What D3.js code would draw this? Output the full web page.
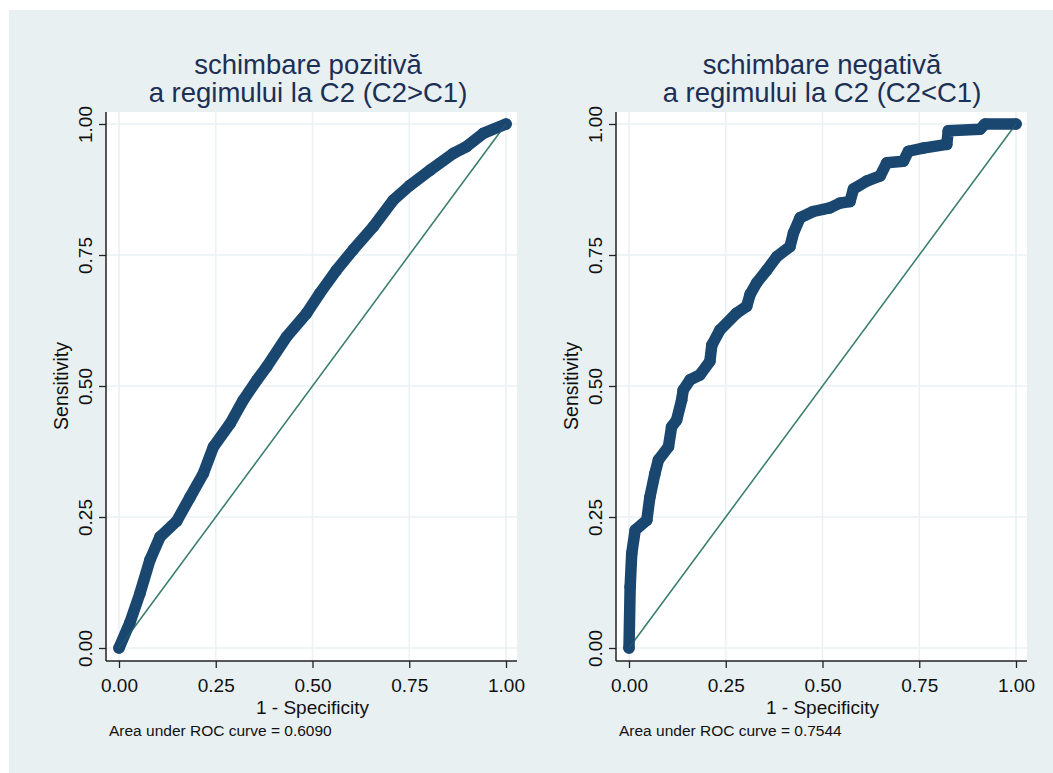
<!DOCTYPE html>
<html>
<head>
<meta charset="utf-8">
<script src="https://cdn.jsdelivr.net/npm/d3@7"></script>
<style>
  html, body { margin: 0; padding: 0; background: #ffffff; }
  svg { display: block; font-family: "Liberation Sans", Arial, sans-serif; }
</style>
</head>
<body>
<svg id="chart" width="1053" height="773"></svg>
<script>
// ---------- DATA ----------
const titles1 = ["schimbare pozitivă", "a regimului la C2 (C2>C1)"];
const titles2 = ["schimbare negativă", "a regimului la C2 (C2<C1)"];
const notes = ["Area under ROC curve = 0.6090", "Area under ROC curve = 0.7544"];
const tickValues = [0, 0.25, 0.5, 0.75, 1];
const tickLabels = ["0.00", "0.25", "0.50", "0.75", "1.00"];
const xTitle = "1 - Specificity";
const yTitle = "Sensitivity";

// panel 1 : 1 - specificity / sensitivity
const spec1 = [0, 0.028, 0.054, 0.080, 0.106, 0.149, 0.183, 0.218, 0.244, 0.287, 0.321, 0.356, 0.382, 0.433, 0.485, 0.519, 0.562, 0.605, 0.657, 0.709, 0.752, 0.804, 0.864, 0.898, 0.941, 1];
const sens1 = [0, 0.048, 0.104, 0.168, 0.212, 0.242, 0.287, 0.333, 0.384, 0.428, 0.473, 0.511, 0.537, 0.594, 0.639, 0.677, 0.721, 0.760, 0.804, 0.855, 0.883, 0.912, 0.944, 0.957, 0.982, 1];

// panel 2
const spec2 = [0, 0.003, 0.007, 0.016, 0.046, 0.054, 0.067, 0.076, 0.102, 0.110, 0.123, 0.136, 0.140, 0.158, 0.183, 0.209, 0.214, 0.235, 0.278, 0.304, 0.313, 0.330, 0.356, 0.382, 0.416, 0.425, 0.442, 0.476, 0.519, 0.545, 0.571, 0.580, 0.614, 0.649, 0.666, 0.709, 0.722, 0.760, 0.821, 0.825, 0.907, 0.920, 1];
const sens2 = [0, 0.117, 0.180, 0.225, 0.244, 0.288, 0.333, 0.359, 0.384, 0.422, 0.435, 0.473, 0.492, 0.512, 0.521, 0.547, 0.578, 0.607, 0.639, 0.652, 0.675, 0.697, 0.721, 0.747, 0.766, 0.792, 0.821, 0.833, 0.840, 0.849, 0.852, 0.876, 0.891, 0.901, 0.926, 0.929, 0.948, 0.954, 0.961, 0.987, 0.990, 1, 1];

// ---------- STYLE ----------
const bgColor = "#e8f0f2";
const gridColor = "#eaf2f3";
const curveColor = "#1a476f";
const refColor = "#3b7f6e";
const titleColor = "#1c2f55";

const svg = d3.select("#chart");

svg.append("rect")
  .attr("x", 9).attr("y", 10)
  .attr("width", 1053 - 9).attr("height", 773 - 10)
  .attr("fill", bgColor);

const panels = [
  { left: 119, title: titles1, titleX: 308, note: notes[0], spec: spec1, sens: sens1 },
  { left: 629, title: titles2, titleX: 822, note: notes[1], spec: spec2, sens: sens2 }
];

const plotW = 387, plotTop = 124, plotH = 524;

panels.forEach(p => {
  const x = d3.scaleLinear().domain([0, 1]).range([p.left, p.left + plotW]);
  const y = d3.scaleLinear().domain([0, 1]).range([plotTop + plotH, plotTop]);

  const rx0 = x(0) - 13, rx1 = x(1) + 11;
  const ry0 = y(1) - 12, ry1 = y(0) + 13;

  const g = svg.append("g");

  // plot region
  g.append("rect")
    .attr("x", rx0).attr("y", ry0)
    .attr("width", rx1 - rx0).attr("height", ry1 - ry0)
    .attr("fill", "#ffffff");

  // grid
  g.selectAll(".vg").data(tickValues).enter().append("line")
    .attr("x1", d => x(d)).attr("x2", d => x(d))
    .attr("y1", ry0).attr("y2", ry1)
    .attr("stroke", gridColor).attr("stroke-width", 1.6);
  g.selectAll(".hg").data(tickValues).enter().append("line")
    .attr("x1", rx0).attr("x2", rx1)
    .attr("y1", d => y(d)).attr("y2", d => y(d))
    .attr("stroke", gridColor).attr("stroke-width", 1.6);

  // reference diagonal
  g.append("line")
    .attr("x1", x(0)).attr("y1", y(0))
    .attr("x2", x(1)).attr("y2", y(1))
    .attr("stroke", refColor).attr("stroke-width", 1.5);

  // ROC curve
  const pts = p.spec.map((s, i) => [s, p.sens[i]]);
  const line = d3.line().x(d => x(d[0])).y(d => y(d[1]));
  g.append("path")
    .attr("d", line(pts))
    .attr("fill", "none")
    .attr("stroke", curveColor)
    .attr("stroke-width", 11.5)
    .attr("stroke-linejoin", "round")
    .attr("stroke-linecap", "round");
  g.selectAll(".pt").data(pts).enter().append("circle")
    .attr("cx", d => x(d[0])).attr("cy", d => y(d[1]))
    .attr("r", 5.8).attr("fill", curveColor);
  // the reference line shows faintly on top near the ends
  g.append("line")
    .attr("x1", x(0)).attr("y1", y(0))
    .attr("x2", x(1)).attr("y2", y(1))
    .attr("stroke", refColor).attr("stroke-width", 1.2)
    .attr("stroke-opacity", 0.35);

  // axes
  const xAxis = d3.axisBottom(x).tickValues(tickValues)
    .tickFormat((d, i) => tickLabels[i]).tickSize(7).tickSizeOuter(0).tickPadding(5);
  const yAxis = d3.axisLeft(y).tickValues(tickValues)
    .tickFormat((d, i) => tickLabels[i]).tickSize(7).tickSizeOuter(0).tickPadding(5);

  const gx = g.append("g").attr("transform", `translate(0,${ry1})`).call(xAxis);
  gx.select(".domain").remove();
  gx.selectAll(".tick line").attr("stroke", "#222").attr("stroke-width", 1.3);
  gx.selectAll(".tick text")
    .attr("fill", "#111")
    .style("font-size", "19px")
    .style("font-family", "'Liberation Sans', Arial, sans-serif")
    .attr("y", 0).attr("dy", null)
    .attr("transform", "translate(0,30.5)");

  const gy = g.append("g").attr("transform", `translate(${rx0},0)`).call(yAxis);
  gy.select(".domain").remove();
  gy.selectAll(".tick line").attr("stroke", "#222").attr("stroke-width", 1.3);
  gy.selectAll(".tick text")
    .attr("fill", "#111")
    .style("font-size", "19px")
    .style("font-family", "'Liberation Sans', Arial, sans-serif")
    .attr("x", null).attr("dy", null)
    .attr("text-anchor", "middle")
    .attr("transform", "translate(-14,0) rotate(-90)");

  // axis lines
  g.append("line").attr("x1", rx0).attr("x2", rx0).attr("y1", ry0).attr("y2", ry1)
    .attr("stroke", "#222").attr("stroke-width", 1.5);
  g.append("line").attr("x1", rx0).attr("x2", rx1).attr("y1", ry1).attr("y2", ry1)
    .attr("stroke", "#222").attr("stroke-width", 1.5);

  // axis titles
  g.append("text")
    .attr("x", (x(0) + x(1)) / 2).attr("y", ry1 + 52.5)
    .attr("text-anchor", "middle")
    .style("font-size", "19px").attr("fill", "#111")
    .text(xTitle);
  g.append("text")
    .attr("transform", `translate(${rx0 - 38},${(y(0) + y(1)) / 2}) rotate(-90)`)
    .attr("text-anchor", "middle")
    .style("font-size", "19.5px").attr("fill", "#111")
    .text(yTitle);

  // note
  g.append("text")
    .attr("x", rx0 + 3).attr("y", ry1 + 75)
    .style("font-size", "15.5px").attr("fill", "#111")
    .text(p.note);

  // title
  g.append("text")
    .attr("x", p.titleX).attr("y", 74)
    .attr("text-anchor", "middle")
    .style("font-size", "27.5px").attr("fill", titleColor)
    .text(p.title[0]);
  g.append("text")
    .attr("x", p.titleX).attr("y", 102)
    .attr("text-anchor", "middle")
    .style("font-size", "27.5px").attr("fill", titleColor)
    .text(p.title[1]);
});
</script>
</body>
</html>
